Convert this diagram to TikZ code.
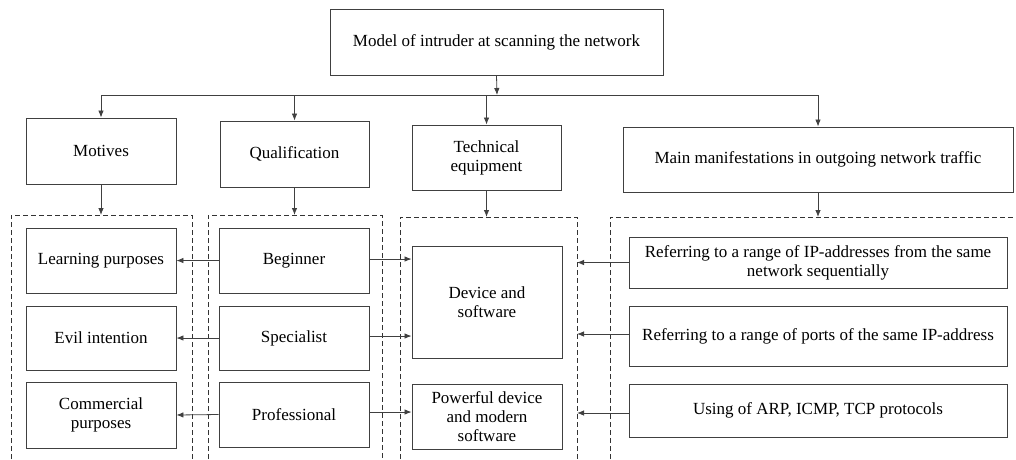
\documentclass[tikz,border=0pt]{standalone}
\usepackage{fontspec}
\setmainfont{Liberation Serif}
\usetikzlibrary{arrows.meta}
\begin{document}
\begin{tikzpicture}[x=1pt,y=-1pt,
  box/.style={draw=black!75, line width=0.9pt, inner sep=2pt, align=center,
    font=\fontsize{17}{19}\selectfont},
  group/.style={draw=black!80, line width=0.8pt, dash pattern=on 5pt off 3pt},
  link/.style={draw=black!75, line width=0.8pt, -{Latex[length=7pt,width=5.5pt]}},
  plain/.style={draw=black!75, line width=0.8pt}
]
\useasboundingbox (0,0) rectangle (1016,459);

% root
\node[box, minimum width=333pt, minimum height=66pt] (root) at (496.5,42) {Model of intruder at scanning the network};

% categories
\node[box, minimum width=150pt, minimum height=66pt] (mot)  at (101,151)   {Motives};
\node[box, minimum width=149pt, minimum height=66pt] (qual) at (294.5,154) {Qualification};
\node[box, minimum width=149pt, minimum height=65pt] (tech) at (486.5,157.5) {Technical\\equipment};
\node[box, minimum width=390pt, minimum height=65pt] (main) at (818,159.5) {Main manifestations in outgoing network traffic};

% distribution bus
\coordinate (bus)  at (497,95);
\coordinate (busL) at (101,95);
\coordinate (busQ) at (294.5,95);
\coordinate (busT) at (486.5,95);
\coordinate (busR) at (818,95);
\draw[link] (root.south) -- (bus);
\draw[plain] (busL) -- (busR);
\draw[link] (busL) -- (mot.north);
\draw[link] (busQ) -- (qual.north);
\draw[link] (busT) -- (tech.north);
\draw[link] (busR) -- (main.north);

% dashed groups (open at the bottom)
\coordinate (gm) at (101,215);
\coordinate (gq) at (294.5,215);
\coordinate (gt) at (486.5,217);
\coordinate (gmain) at (818,217);
\coordinate (gtR) at (577,300);
\draw[group] (11,459) -- (11,215) -- (192,215) -- (192,459);
\draw[group] (208,459) -- (208,215) -- (382,215) -- (382,459);
\draw[group] (400,459) -- (400,217) -- (577,217) -- (577,459);
\draw[group] (610,459) -- (610,217) -- (1016,217);

\draw[link] (mot.south) -- (gm);
\draw[link] (qual.south) -- (gq);
\draw[link] (tech.south) -- (gt);
\draw[link] (main.south) -- (gmain);

% motives
\node[box, minimum width=150pt, minimum height=65pt] (learn) at (101,260.5) {Learning purposes};
\node[box, minimum width=150pt, minimum height=64pt] (evil)  at (101,338)   {Evil intention};
\node[box, minimum width=150pt, minimum height=66pt] (comm)  at (101,415)   {Commercial\\purposes};

% qualification
\node[box, minimum width=150pt, minimum height=65pt] (beg)  at (294,260.5) {Beginner};
\node[box, minimum width=150pt, minimum height=64pt] (spec) at (294,338)   {Specialist};
\node[box, minimum width=150pt, minimum height=65pt] (prof) at (294,414.5) {Professional};

% technical equipment
\node[box, minimum width=150pt, minimum height=112pt] (dev) at (487,302)   {Device and\\software};
\node[box, minimum width=150pt, minimum height=65pt]  (pow) at (487,416.5) {Powerful device\\and modern\\software};

% traffic manifestations
\node[box, minimum width=378pt, minimum height=51pt] (ref1) at (818,262.5) {Referring to a range of IP-addresses from the same\\network sequentially};
\node[box, minimum width=378pt, minimum height=60pt] (ref2) at (818,336)   {Referring to a range of ports of the same IP-address};
\node[box, minimum width=378pt, minimum height=53pt] (arp)  at (818,410.5) {Using of ARP, ICMP, TCP protocols};

% qualification -> motives
\draw[link] (beg.west)  -- (learn.east);
\draw[link] (spec.west) -- (evil.east);
\draw[link] (prof.west) -- (comm.east);

% qualification -> equipment
\draw[link] ([yshift=1.5pt]beg.east)  -- ([yshift=1.5pt]beg.east -| dev.west);
\draw[link] ([yshift=2pt]spec.east)   -- ([yshift=2pt]spec.east -| dev.west);
\draw[link] ([yshift=2.5pt]prof.east) -- ([yshift=2.5pt]prof.east -| pow.west);

% manifestations -> equipment group
\draw[link] (ref1.west) -- (ref1.west -| gtR);
\draw[link] ([yshift=2pt]ref2.west) -- ([yshift=2pt]ref2.west -| gtR);
\draw[link] ([yshift=-2.5pt]arp.west) -- ([yshift=-2.5pt]arp.west -| gtR);
\end{tikzpicture}
\end{document}
